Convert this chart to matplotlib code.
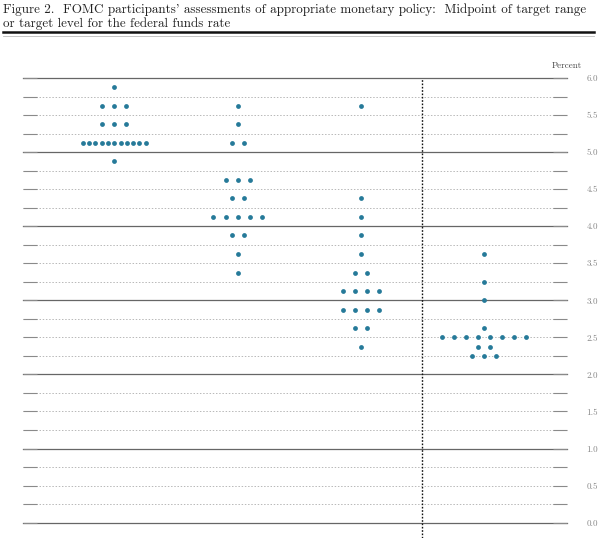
import matplotlib
matplotlib.use("Agg")
import matplotlib.pyplot as plt
from matplotlib.ticker import MultipleLocator, FormatStrFormatter

plt.rcParams['font.family'] = ['cmr10', 'DejaVu Serif']
plt.rcParams['axes.formatter.use_mathtext'] = True

# 年ごとの参加者の見通し（中間値とドットの数）
years = ['2023', '2024', '2025', 'Longer run']
rates_2023 = [5.875, 5.625, 5.375, 5.125, 4.875]
counts_2023 = [1, 3, 3, 11, 1]
rates_2024 = [5.625, 5.375, 5.125, 4.625, 4.375, 4.125, 3.875, 3.625, 3.375]
counts_2024 = [1, 1, 2, 3, 2, 5, 2, 1, 1]
rates_2025 = [5.625, 4.375, 4.125, 3.875, 3.625, 3.375, 3.125, 2.875, 2.625, 2.375]
counts_2025 = [1, 1, 1, 1, 1, 2, 4, 4, 2, 1]
rates_lr = [3.625, 3.25, 3.0, 2.625, 2.5, 2.375, 2.25]
counts_lr = [1, 1, 1, 1, 8, 2, 3]

grid_levels = [i * 0.25 for i in range(25)]

DOT = '#267a99'

fig = plt.figure(figsize=(6.0, 5.38), dpi=100)
W, H = 600, 538

# タイトル
fig.text(3 / W, 1 - 3 / H,
         "Figure 2.  FOMC participants' assessments of appropriate monetary policy:  Midpoint of target range\n"
         "or target level for the federal funds rate",
         ha='left', va='top', fontsize=9.45, linespacing=1.15, color='#222222')
fig.add_artist(plt.Line2D([3 / W, 594 / W], [1 - 32.5 / H] * 2, color='#111111', lw=1.8))
fig.add_artist(plt.Line2D([3 / W, 594 / W], [1 - 36 / H] * 2, color='#bbbbbb', lw=0.6))

ax = fig.add_axes([23 / W, 0, (567 - 23) / W, (538 - 78) / H])
ax.set_xlim(0.259, 4.674)
ax.set_ylim(-0.207, 6.0)
for s in ax.spines.values():
    s.set_visible(False)

# 横線（整数は実線、それ以外は点線）
for g in grid_levels:
    if abs(g - round(g)) < 1e-9:
        ax.axhline(g, color='#666666', lw=0.9, zorder=1, clip_on=False)
    else:
        ax.axhline(g, color='#b8b8b8', lw=0.7, ls=(0, (1.5, 1.8)), zorder=1, clip_on=False)

# 区切り線
ax.axvline(3.5, color='#111111', lw=1.0, ls=(0, (1.2, 1.2)), zorder=2, clip_on=False)

# ドット
all_rates = [rates_2023, rates_2024, rates_2025, rates_lr]
all_counts = [counts_2023, counts_2024, counts_2025, counts_lr]
for col, (rs, cs) in enumerate(zip(all_rates, all_counts)):
    for r, c in zip(rs, cs):
        step = 0.051 if c > 10 else 0.0975
        xs = [col + 1 + (k - (c - 1) / 2) * step for k in range(c)]
        ax.scatter(xs, [r] * c, s=12, color=DOT, zorder=3, linewidths=0)

ax.set_xticks([])
ax.yaxis.set_major_locator(MultipleLocator(0.5))
ax.yaxis.set_minor_locator(MultipleLocator(0.25))
ax.yaxis.set_major_formatter(FormatStrFormatter('%.1f'))
ax.tick_params(axis='y', which='both', direction='in', length=10, width=0.8,
               color='#8a8a8a', left=True, right=True, labelleft=False, labelright=True)
ax.tick_params(axis='y', which='major', pad=14, labelsize=6.5, labelcolor='#888888')

fig.text(567 / W, 1 - 66 / H, 'Percent', ha='center', va='center', fontsize=6.5, color='#444444')

fig.savefig('out.png', dpi=100)
